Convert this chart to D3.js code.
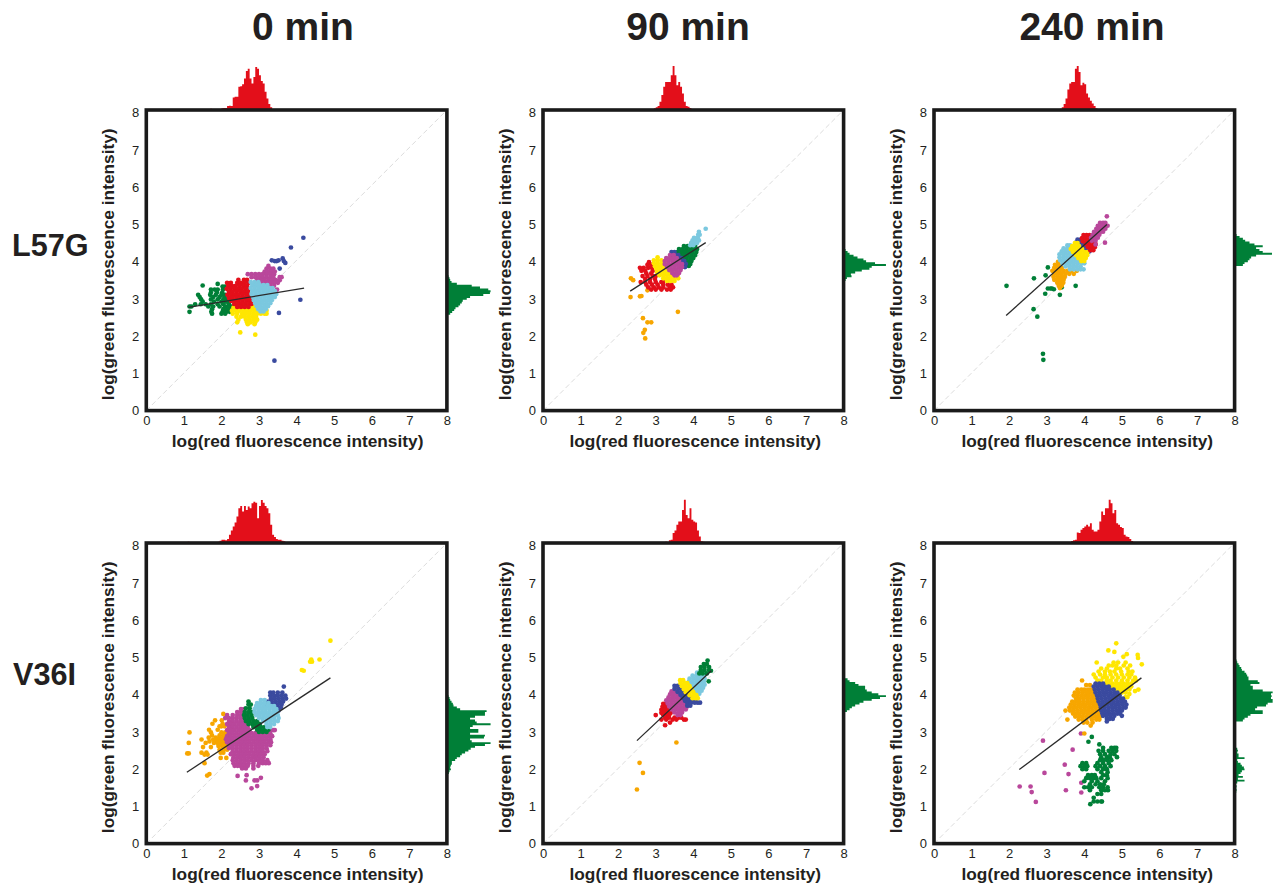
<!DOCTYPE html>
<html><head><meta charset="utf-8">
<script src="https://cdn.jsdelivr.net/npm/d3@7"></script>
<style>html,body{margin:0;padding:0;background:#fff;overflow:hidden}svg{display:block}text{font-family:"Liberation Sans",Arial,sans-serif;fill:#231f20}</style>
</head><body><svg id="c" width="1274" height="885"></svg>
<script>
const columnTitles=["0 min","90 min","240 min"];
const rowTitles=["L57G","V36I"];
const xLabel="log(red fluorescence intensity)";
const yLabel="log(green fluorescence intensity)";
const tickValues=[0,1,2,3,4,5,6,7,8];
const colors={red:"#e30f1a",green:"#007f37",magenta:"#b9479b",cyan:"#7bc8df",yellow:"#ffe600",orange:"#f7a600",blue:"#3a4a9f"};

// Scatter clusters: each row is [y, x, x, x ...].
const p1Green=[[3.37,1.9],[3.33,1.5],[3.3,2.03,2.1],[3.22,1.72,1.82,1.9,2.04],[3.14,1.72,1.88,2.02],[3.08,1.38,1.7,1.85,2.0,2.1],[3.02,1.42,1.78,1.95,2.08],[2.96,1.46,1.72,1.9,2.05,2.15],[2.9,1.5,1.8,2.0,2.12,2.18],[2.83,1.3,1.45,1.58,1.72,1.9,2.05,2.2],[2.77,1.15,1.2,1.65,1.78,1.95,2.1,2.2,2.28],[2.7,1.75,2.05,2.15,2.25,2.3],[2.63,1.15,1.73,2.03,2.13,2.22],[2.58,1.75,2.0,2.1]];
const p1Yellow=[[2.82,2.4,2.5,2.6,2.7,2.8,2.9],[2.74,2.32,2.42,2.52,2.62,2.72,2.82,2.92,3.0],[2.66,2.28,2.38,2.48,2.58,2.68,2.78,2.88,2.98,3.08,3.2],[2.58,2.3,2.42,2.55,2.65,2.75,2.85,2.95,3.05,3.15,3.2],[2.5,2.4,2.52,2.62,2.72,2.82,2.92],[2.42,2.45,2.65,2.75,2.85,2.95],[2.35,2.42,2.68,2.78,2.9],[2.3,2.7,2.88],[2.08,2.5],[2.02,2.9]];
const p1Red=[[3.48,2.45,2.6,2.68],[3.4,2.15,2.25,2.42,2.52,2.62,2.72],[3.32,2.18,2.28,2.38,2.48,2.58,2.68],[3.24,2.14,2.24,2.34,2.44,2.54,2.64,2.74],[3.16,2.2,2.3,2.4,2.5,2.6,2.7],[3.08,2.16,2.26,2.36,2.46,2.56,2.66,2.76],[3.0,2.2,2.3,2.4,2.5,2.6,2.7,2.76],[2.92,2.26,2.36,2.46,2.56,2.66,2.76],[2.84,2.34,2.44,2.54,2.64,2.74,2.8],[2.76,2.42,2.52,2.62,2.72]];
const p1Magenta=[[3.85,3.25],[3.78,3.2,3.3,3.38],[3.7,3.15,3.25,3.35,3.42],[3.63,2.7,2.8,2.9,3.0,3.1,3.2,3.3,3.4],[3.55,2.8,2.9,3.0,3.1,3.2,3.3,3.38,3.55,3.6],[3.47,2.95,3.05,3.15,3.25,3.35,3.45,3.55],[3.4,3.1,3.2,3.3,3.4,3.5],[3.32,3.3,3.4],[3.22,3.48]];
const p1Cyan=[[3.42,2.78,2.88,2.98],[3.34,2.82,2.92,3.02,3.12,3.22],[3.26,2.78,2.88,2.98,3.08,3.18,3.28,3.36],[3.18,2.82,2.92,3.02,3.12,3.22,3.32,3.42],[3.1,2.8,2.9,3.0,3.1,3.2,3.3,3.4,3.46],[3.02,2.84,2.94,3.04,3.14,3.24,3.34,3.42],[2.94,2.86,2.96,3.06,3.16,3.26,3.34],[2.86,2.9,3.0,3.1,3.2,3.3],[2.78,2.94,3.04,3.14,3.24],[2.7,2.98,3.08,3.18],[2.64,3.04,3.12]];
const p1Blue=[[4.6,4.18],[4.34,3.85],[4.05,3.63],[4.0,3.34,3.52],[3.98,3.42,3.47,3.66],[3.93,3.7],[3.78,3.55],[2.95,4.1],[2.6,3.53],[1.33,3.41]];

const p2Orange=[[3.52,2.34],[3.47,2.4],[3.2,2.78],[3.05,2.62],[3.04,2.58],[3.02,2.33],[2.63,3.59],[2.46,2.66],[2.35,2.78,2.88],[2.15,2.71],[2.07,2.67],[1.92,2.72]];
const p2Red=[[3.95,2.82],[3.88,2.78,2.88],[3.8,2.58,2.68,2.8,2.9],[3.72,2.62,2.72,2.92],[3.65,2.75,2.88],[3.58,2.65,2.78,2.92,3.0],[3.5,2.72,2.85,2.98],[3.42,2.6,2.72,2.85,3.0,3.15,3.2],[3.35,2.75,2.9,3.05,3.2,3.32,3.42],[3.28,2.8,2.95,3.08,3.2,3.38,3.46],[3.22,2.88,3.0,3.15,3.3,3.4]];
const p2Yellow=[[4.08,3.05],[4.0,2.95,3.05,3.15],[3.92,2.95,3.05,3.15,3.25],[3.84,2.98,3.08,3.18,3.28],[3.76,3.02,3.12,3.22,3.32],[3.68,3.04,3.14,3.24,3.34,3.44],[3.6,3.1,3.2,3.3,3.4,3.5,3.58],[3.52,3.2,3.3,3.4,3.5,3.6],[3.45,3.3,3.4,3.5]];
const p2Green=[[4.45,3.95,4.02],[4.38,3.75,3.85,3.95,4.05],[4.3,3.62,3.72,3.82,3.92,4.02,4.1],[4.22,3.58,3.68,3.78,3.88,3.98,4.08],[4.14,3.65,3.75,3.85,3.95,4.05],[4.06,3.72,3.82,3.92,4.0],[3.98,3.8,3.9,3.95],[3.9,3.82,3.92],[3.85,3.88]];
const p2Blue=[[4.22,3.42,3.5],[4.14,3.42,3.52,3.6],[4.06,3.5,3.6,3.68],[3.98,3.58,3.68,3.76],[3.9,3.62,3.72,3.8],[3.82,3.7,3.78]];
const p2Magenta=[[4.14,3.38,3.48],[4.06,3.28,3.38,3.48,3.56],[3.98,3.24,3.34,3.44,3.54,3.62],[3.9,3.24,3.34,3.44,3.54,3.64,3.7],[3.82,3.3,3.4,3.5,3.6,3.7],[3.74,3.36,3.46,3.56,3.66],[3.66,3.44,3.54,3.62],[3.6,3.5,3.56]];
const p2Cyan=[[4.84,4.33],[4.76,4.15],[4.68,4.13,4.17],[4.6,4.02,4.12],[4.53,3.98,4.06,4.15],[4.46,3.95,4.03,4.1],[4.4,3.92,4.0]];

const p3Green=[[3.81,3.03],[3.6,2.97],[3.52,2.66],[3.32,1.93,3.77],[3.28,3.4],[3.25,3.03,3.1,3.14],[3.23,3.19],[3.11,2.96],[3.08,3.35],[2.7,2.65],[2.5,2.75],[1.51,2.9],[1.35,2.91]];
const p3Orange=[[3.96,3.3],[3.88,3.22,3.32],[3.8,3.2,3.3,3.4],[3.72,3.15,3.25,3.35,3.45,3.55,3.65,3.8],[3.64,3.2,3.3,3.4,3.5,3.6,3.72],[3.56,3.18,3.28,3.38,3.48],[3.48,3.2,3.3,3.38,3.45],[3.4,3.28,3.36,3.44],[3.32,3.32,3.4],[3.26,3.35]];
const p3Cyan=[[4.4,3.55,3.62],[4.32,3.45,3.55,3.65,3.7],[4.24,3.4,3.5,3.6,3.7],[4.16,3.34,3.44,3.54,3.64,3.74],[4.08,3.34,3.44,3.54,3.64,3.74,3.84],[4.0,3.36,3.46,3.56,3.66,3.76,3.86,3.94],[3.92,3.42,3.52,3.62,3.72,3.82,3.92,4.0],[3.84,3.5,3.6,3.7,3.8,3.9],[3.76,3.62,3.72,3.82,3.9,3.98]];
const p3Blue=[[4.55,3.82,3.9],[4.47,3.78,3.88,3.96],[4.4,3.85,3.95,4.02],[4.32,3.98,4.06],[4.24,4.02,4.1,4.14]];
const p3Yellow=[[4.46,3.75,3.82],[4.38,3.68,3.78,3.86],[4.3,3.64,3.74,3.84,3.94],[4.22,3.7,3.8,3.9,4.0,4.08],[4.14,3.78,3.88,3.98,4.08],[4.06,3.84,3.94,4.04],[3.98,3.92,4.0]];
const p3Red=[[4.67,3.98,4.06,4.14],[4.59,3.94,4.04,4.14,4.22],[4.51,3.96,4.06,4.16,4.26],[4.43,4.04,4.14,4.24,4.3],[4.35,4.1,4.2,4.28],[4.27,4.16,4.24]];
const p3Magenta=[[5.17,4.6],[5.0,4.42,4.5,4.56],[4.92,4.36,4.46,4.54,4.62],[4.84,4.32,4.4,4.5,4.56],[4.76,4.26,4.36,4.44,4.5],[4.68,4.22,4.32,4.4],[4.6,4.18,4.28,4.36],[4.52,4.2,4.3],[4.47,4.55],[4.42,4.3]];

const p4Yellow=[[5.4,4.9],[4.9,4.39,4.61],[4.84,4.41,4.36],[4.62,4.14],[4.6,4.19]];
const p4Orange=[[3.45,2.05],[3.28,2.01,1.83],[3.19,1.76,2.03],[3.12,1.95,2.0,2.08],[3.03,1.67,1.9],[2.96,1.15,1.72,2.0,2.1],[2.88,1.75,1.95,2.05,2.12],[2.82,1.66,1.85,1.95,2.05,2.12],[2.77,1.47,1.78,1.9,2.0,2.1],[2.72,1.68,1.85,1.95,2.05,2.13],[2.68,1.13,1.58,1.8,1.9,2.0,2.1],[2.6,1.92,2.02,2.12],[2.57,1.51,1.72],[2.5,1.95,2.05,2.15],[2.42,1.47,1.6,1.98,2.05],[2.4,1.09,1.13],[2.37,1.55,1.63],[2.28,1.98,2.13],[2.14,1.55],[1.85,1.68],[1.81,1.62]];
const p4Magenta=[[3.58,2.52,2.6],[3.5,2.42,2.52,2.6],[3.42,2.15,2.3,2.42,2.52,2.62],[3.34,2.1,2.2,2.3,2.4,2.5,2.6],[3.26,2.2,2.3,2.4,2.5,2.6],[3.18,2.15,2.25,2.35,2.45,2.55,2.65],[3.1,2.2,2.3,2.4,2.5,2.6,2.7],[3.02,2.15,2.25,2.35,2.45,2.55,2.65,2.75,3.2,3.3,3.38,3.42],[2.94,2.2,2.3,2.4,2.5,2.6,2.7,2.8,2.9,3.0,3.1,3.2,3.3],[2.86,2.15,2.25,2.35,2.45,2.55,2.65,2.75,2.85,2.95,3.05,3.15,3.25,3.35],[2.78,2.12,2.2,2.3,2.4,2.5,2.6,2.7,2.8,2.9,3.0,3.1,3.2,3.3],[2.7,2.15,2.25,2.35,2.45,2.55,2.65,2.75,2.85,2.95,3.05,3.15,3.25,3.32],[2.62,2.2,2.3,2.4,2.5,2.6,2.7,2.8,2.9,3.0,3.1,3.2,3.3],[2.54,2.2,2.3,2.4,2.5,2.6,2.7,2.8,2.9,3.0,3.1,3.2],[2.46,2.3,2.4,2.5,2.6,2.7,2.8,2.9,3.0,3.1,3.22],[2.38,2.25,2.35,2.45,2.55,2.65,2.75,2.85,2.95,3.05,3.15],[2.3,2.32,2.42,2.52,2.62,2.72,2.82,2.92,3.02,3.12],[2.22,2.3,2.4,2.5,2.6,2.7,2.8,2.9,3.0,3.1,3.22],[2.14,2.32,2.42,2.52,2.62,2.72,2.85,3.0,3.1,3.18,3.26],[2.07,2.35,2.43,2.5,2.6,2.7,2.85,2.98],[2.0,2.55,2.65,2.85],[1.82,2.67],[1.8,2.43],[1.75,3.05],[1.68,2.95,2.65,2.88],[1.53,2.95],[1.47,2.8]];
const p4Green=[[3.78,2.72],[3.7,2.72,2.78],[3.6,2.65,2.75],[3.5,2.62,2.72,2.8],[3.42,2.6,2.7,2.8],[3.34,2.62,2.72,2.82],[3.26,2.65,2.75,2.85,2.95],[3.18,2.72,2.82,2.92,3.02],[3.1,2.85,2.95,3.05,3.15],[3.03,2.95,3.05,3.15,3.25],[2.97,3.0,3.1,3.2]];
const p4Cyan=[[3.82,3.05,3.15],[3.74,2.95,3.05,3.15,3.25],[3.66,2.92,3.02,3.12,3.22,3.32,3.4],[3.58,2.88,2.98,3.08,3.18,3.28,3.38,3.46],[3.5,2.88,2.98,3.08,3.18,3.28,3.38,3.48],[3.42,2.92,3.02,3.12,3.22,3.32,3.42,3.5],[3.34,3.0,3.1,3.2,3.3,3.4,3.52],[3.26,3.1,3.2,3.3,3.4,3.5],[3.18,3.2,3.3,3.4],[3.1,3.22,3.3]];
const p4Blue=[[4.18,3.66],[4.02,3.3,3.38,3.5,3.62],[3.94,3.3,3.4,3.5,3.6,3.7],[3.86,3.32,3.42,3.52,3.62,3.72],[3.78,3.24,3.34,3.44,3.54,3.64],[3.7,3.2,3.3,3.4,3.5,3.6],[3.62,3.4,3.5,3.58],[3.54,3.45,3.52]];

const p5Orange=[[2.69,3.55],[2.15,2.57],[1.88,2.66],[1.44,2.5]];
const p5Red=[[3.72,3.2,3.28],[3.64,3.18,3.26,3.34],[3.56,3.15,3.23,3.32],[3.48,3.15,3.22,3.3,3.4],[3.42,3.0,3.2,3.28,3.36],[3.35,3.25,3.35,3.5,3.6,3.68],[3.3,3.15,3.28,3.45,3.55,3.75,3.8],[3.22,3.38],[3.15,3.25]];
const p5Magenta=[[4.05,3.42,3.5],[3.97,3.38,3.48,3.58,3.66],[3.89,3.34,3.44,3.54,3.64,3.72],[3.81,3.28,3.38,3.48,3.58,3.68,3.76],[3.73,3.32,3.42,3.52,3.62,3.72,3.8],[3.65,3.36,3.46,3.56,3.66,3.76,3.84],[3.57,3.42,3.52,3.62,3.72,3.8],[3.49,3.5,3.6,3.7],[3.42,3.58,3.66]];
const p5Blue=[[4.2,3.5,3.58],[4.12,3.5,3.6,3.68],[4.04,3.58,3.68,3.76],[3.96,3.66,3.76,3.84],[3.88,3.72,3.82,3.9,3.98],[3.8,3.78,3.88,3.98,4.06],[3.75,3.84,3.94,4.04,4.12,4.18],[3.67,3.84,3.92]];
const p5Cyan=[[4.55,4.1,4.18,4.25],[4.47,3.98,4.08,4.18,4.28],[4.39,3.9,4.0,4.1,4.2,4.3],[4.31,3.88,3.98,4.08,4.18,4.28],[4.23,3.94,4.04,4.14,4.24,4.3],[4.15,4.0,4.1,4.2,4.26],[4.07,4.04,4.14,4.22],[3.99,4.1,4.16]];
const p5Yellow=[[4.35,3.65,3.73],[4.27,3.66,3.76,3.84],[4.19,3.7,3.8,3.9],[4.11,3.75,3.85,3.95],[4.03,3.8,3.9,4.0],[3.95,3.9,4.0,4.08],[3.87,3.98,4.06,4.12]];
const p5Green=[[4.87,4.38],[4.78,4.28,4.36],[4.7,4.2,4.3,4.42],[4.62,4.2,4.3,4.42],[4.6,4.47],[4.53,4.16,4.25,4.36],[4.32,4.41]];

const p6Magenta=[[2.93,3.91],[2.74,2.9],[2.5,3.69],[2.1,3.48],[1.88,2.94],[1.85,3.58],[1.62,3.92],[1.52,2.28,2.57],[1.42,3.51],[1.37,2.6],[1.36,3.92],[1.11,2.71]];
const p6Green=[[2.84,4.2],[2.71,4.11],[2.64,4.4],[2.55,4.5,4.72,4.8,4.85],[2.47,4.38,4.5,4.65,4.75,4.85],[2.38,4.42,4.55,4.7,4.8],[2.3,4.45,4.6,4.68,4.87],[2.22,4.42,4.52,4.62,4.72],[2.14,3.95,4.05,4.35,4.5,4.65],[2.06,3.9,4.0,4.08,4.3,4.42,4.55,4.7],[1.98,3.95,4.05,4.35,4.5,4.6],[1.9,4.45,4.62],[1.82,4.1,4.2,4.28,4.5,4.6],[1.74,4.05,4.15,4.25,4.32,4.45,4.62],[1.66,4.0,4.2,4.35,4.55],[1.58,4.15,4.3,4.42,4.52],[1.5,4.0,4.1,4.2,4.4,4.5,4.62],[1.42,4.15,4.45,4.55,4.63],[1.32,4.35,4.45],[1.22,4.25],[1.12,4.25,4.35,4.45,4.47],[1.05,4.16]];
const p6Yellow=[[5.33,4.85],[5.14,4.64],[5.1,4.8],[5.04,5.13],[5.02,5.42],[4.97,5.04],[4.94,5.43],[4.82,4.33,4.78,4.9,5.1],[4.77,5.53],[4.74,4.65,4.75,4.85,5.05,5.22],[4.66,4.45,4.6,4.85,4.95,5.15],[4.58,4.38,4.55,4.68,4.8,4.98,5.18,5.28],[4.5,4.25,4.42,4.55,4.7,4.85,5.0,5.15,5.25],[4.42,4.3,4.5,4.6,4.75,4.9,5.05,5.2,5.35],[4.34,4.35,4.45,4.6,4.7,4.85,5.0,5.15,5.3,5.38],[4.26,4.45,4.55,4.65,4.75,4.85,4.95,5.05,5.15,5.25],[4.18,4.6,4.7,4.8,4.9,5.0,5.1,5.18,5.25],[4.1,4.85,4.95,5.05,5.12,5.2,5.44],[4.06,5.35],[4.02,5.0,5.1],[3.98,5.2],[3.9,5.1,5.15]];
const p6Orange=[[4.34,3.94],[4.22,4.05,4.15],[4.1,3.82,3.92,4.0,4.1,4.18],[4.02,3.75,3.85,3.95,4.05,4.15,4.25],[3.94,3.72,3.82,3.92,4.02,4.12,4.22,4.3],[3.86,3.78,3.88,3.98,4.08,4.18,4.28,4.34],[3.78,3.68,3.78,3.88,3.98,4.08,4.18,4.28,4.36],[3.7,3.64,3.74,3.84,3.94,4.04,4.14,4.24,4.34,4.4],[3.62,3.6,3.7,3.8,3.9,4.0,4.1,4.2,4.3,4.4],[3.54,3.5,3.62,3.72,3.82,3.92,4.02,4.12,4.22,4.32,4.42],[3.46,3.7,3.78,3.88,3.98,4.08,4.18,4.28,4.38],[3.38,3.76,3.86,3.96,4.06,4.16,4.26,4.36,4.42],[3.3,3.55,3.85,3.95,4.05,4.2,4.32,4.4],[3.22,3.98,4.08,4.22],[3.14,4.17],[2.93,4.0]];
const p6Blue=[[4.26,4.3,4.4,4.5],[4.18,4.25,4.35,4.45,4.55,4.65],[4.1,4.28,4.38,4.48,4.58,4.68,4.78],[4.02,4.3,4.4,4.5,4.6,4.7,4.8,4.88],[3.94,4.34,4.44,4.54,4.64,4.74,4.84,4.94],[3.86,4.36,4.46,4.56,4.66,4.76,4.86,4.96,5.03],[3.78,4.38,4.48,4.58,4.68,4.78,4.88,4.98,5.08],[3.7,4.42,4.52,4.62,4.72,4.82,4.92,5.02,5.12],[3.62,4.44,4.54,4.64,4.74,4.84,4.94,5.04,5.1],[3.54,4.45,4.55,4.65,4.75,4.85,4.95,5.0],[3.46,4.48,4.58,4.68,4.78,4.88,4.95],[3.4,4.5,4.6,4.7,4.8,5.0],[3.32,4.6,4.68,4.76],[3.25,4.6]];

// Fitted lines: [x1, y1, x2, y2]
const fit1=[1.12,2.75,4.2,3.26];
const fit2=[2.32,3.18,4.33,4.47];
const fit3=[1.92,2.53,4.6,4.95];
const fit4=[1.08,1.9,4.9,4.41];
const fit5=[2.5,2.74,4.48,4.6];
const fit6=[2.27,1.97,5.52,4.41];

// Marginal histograms: first bin left edge and per-bin counts
const binWidth=0.05;
const red1Start=1.7, red1=[4,2,0,0,3,3,5,6,6,12,13,12,38,40,40,70,72,78,95,118,125,95,80,100,130,125,105,88,80,55,35,18,8,2];
const green1Start=2.55, green1=[5,10,16,22,26,35,40,45,48,60,70,110,130,132,125,100,75,30,14,10,8,5,3,2];
const red2Start=2.9, red2=[3,5,8,12,25,45,70,85,85,85,105,133,105,75,85,70,50,25,12,10,6,2];
const green2Start=3.45, green2=[4,6,10,24,22,35,55,78,85,128,95,68,60,42,30,18,12,6,3];
const red3Start=3.3, red3=[3,4,8,18,35,62,80,85,85,125,133,115,75,82,78,50,38,28,20,12,5];
const green3Start=3.85, green3=[5,25,30,40,45,50,65,113,85,75,65,85,60,45,32,25,15,6];
const red4Start=1.1, red4=[4,0,0,0,0,0,0,0,0,0,3,3,3,3,0,0,4,7,10,10,8,12,25,38,50,62,80,105,112,95,112,100,110,105,120,125,122,75,112,130,122,112,105,90,55,25,18,12,10,10,7,5,3];
const green4Start=1.6, green4=[2,2,2,2,3,3,6,8,12,10,12,15,15,25,30,40,45,55,65,72,85,115,132,75,70,112,115,70,95,95,70,78,132,90,85,70,85,115,115,120,40,30,20,18,14,10,8,5,3,2];
const red5Start=3.2, red5=[2,4,2,8,10,30,38,55,65,65,100,131,85,75,105,70,65,62,38,20,5,4];
const green5Start=3.5, green5=[5,10,18,25,35,48,60,85,110,128,105,85,70,65,65,45,35,18,12,4];
const red6Start=2.55, red6=[2,0,0,0,0,0,0,0,0,0,0,0,0,0,0,0,0,0,0,3,2,2,6,8,10,32,30,40,45,50,55,50,60,40,35,35,40,65,95,85,105,105,131,120,90,100,60,55,48,45,25,20,18,12,6,2,2,2,2];
const green6Start=1.1, green6=[8,0,0,0,0,3,5,6,5,6,4,8,30,10,25,12,18,22,30,28,22,18,10,8,30,12,12,8,10,8,0,0,0,0,0,0,0,0,0,0,0,0,0,0,25,30,40,48,85,85,62,68,95,100,115,115,110,112,110,115,85,55,55,48,75,70,42,42,38,35,30,22,20,15,12,8,6,4,2,2,2];

const panels=[
 {left:146.3,top:110,col:0,row:0,fit:fit1,redStart:red1Start,red:red1,greenStart:green1Start,green:green1,layers:[[p1Green,"green"],[p1Yellow,"yellow"],[p1Red,"red"],[p1Magenta,"magenta"],[p1Cyan,"cyan"],[p1Blue,"blue"]]},
 {left:543,top:110,col:1,row:0,fit:fit2,redStart:red2Start,red:red2,greenStart:green2Start,green:green2,layers:[[p2Orange,"orange"],[p2Red,"red"],[p2Yellow,"yellow"],[p2Green,"green"],[p2Blue,"blue"],[p2Magenta,"magenta"],[p2Cyan,"cyan"]]},
 {left:934,top:110,col:2,row:0,fit:fit3,redStart:red3Start,red:red3,greenStart:green3Start,green:green3,layers:[[p3Green,"green"],[p3Orange,"orange"],[p3Cyan,"cyan"],[p3Blue,"blue"],[p3Yellow,"yellow"],[p3Red,"red"],[p3Magenta,"magenta"]]},
 {left:146.3,top:543,col:0,row:1,fit:fit4,redStart:red4Start,red:red4,greenStart:green4Start,green:green4,layers:[[p4Yellow,"yellow"],[p4Orange,"orange"],[p4Magenta,"magenta"],[p4Green,"green"],[p4Blue,"blue"],[p4Cyan,"cyan"]]},
 {left:543,top:543,col:1,row:1,fit:fit5,redStart:red5Start,red:red5,greenStart:green5Start,green:green5,layers:[[p5Orange,"orange"],[p5Red,"red"],[p5Magenta,"magenta"],[p5Blue,"blue"],[p5Cyan,"cyan"],[p5Yellow,"yellow"],[p5Green,"green"]]},
 {left:934,top:543,col:2,row:1,fit:fit6,redStart:red6Start,red:red6,greenStart:green6Start,green:green6,layers:[[p6Magenta,"magenta"],[p6Green,"green"],[p6Yellow,"yellow"],[p6Orange,"orange"],[p6Blue,"blue"]]}
];

const size=300.6, dotR=2.35;
const svg=d3.select("#c");
const histH=d3.scaleLinear().domain([0,133]).range([0,44]);
const fontStack='"Liberation Sans",Arial,sans-serif';

panels.forEach(p=>{
  const g=svg.append("g").attr("transform",`translate(${p.left},${p.top})`);
  const x=d3.scaleLinear().domain([0,8]).range([0,size]);
  const y=d3.scaleLinear().domain([0,8]).range([size,0]);
  const yTick=d3.scaleLinear().domain([0,8]).range([size,2.6]);

  const redArea=d3.area().curve(d3.curveStepAfter)
    .x((d,i)=>x(p.redStart+i*binWidth)).y0(0).y1(d=>-histH(d));
  g.append("path").attr("d",redArea([...p.red,0])).attr("fill",colors.red);
  const greenArea=d3.area().curve(d3.curveStepAfter)
    .y((d,i)=>y(p.greenStart+i*binWidth)).x0(size).x1(d=>size+histH(d));
  g.append("path").attr("d",greenArea([...p.green,0])).attr("fill",colors.green);

  g.append("line").attr("x1",x(0)).attr("y1",y(0)).attr("x2",x(8)).attr("y2",y(8))
    .attr("stroke","#dcdcdc").attr("stroke-width",1).attr("stroke-dasharray","5 3");

  p.layers.forEach(([rows,c])=>{
    const pts=rows.flatMap(([v,...xs])=>xs.map(u=>[u,v]));
    g.append("g").selectAll("circle").data(pts).join("circle")
      .attr("cx",d=>x(d[0])).attr("cy",d=>y(d[1])).attr("r",dotR).attr("fill",colors[c]);
  });

  g.append("line").attr("x1",x(p.fit[0])).attr("y1",y(p.fit[1])).attr("x2",x(p.fit[2])).attr("y2",y(p.fit[3]))
    .attr("stroke","#2a2a2a").attr("stroke-width",1.3);

  const ax=g.append("g").attr("transform",`translate(0,${size})`)
    .call(d3.axisBottom(x).tickValues(tickValues).tickSize(0).tickPadding(5).tickFormat(d3.format("d")));
  const ay=g.append("g").call(d3.axisLeft(yTick).tickValues(tickValues).tickSize(0).tickPadding(7).tickFormat(d3.format("d")));
  [ax,ay].forEach(a=>{a.select(".domain").remove();a.selectAll("text").attr("font-size",13).style("font-family",fontStack).attr("fill","#231f20");});
  ax.selectAll("text").filter(d=>d===6).attr("fill","#777");

  g.append("rect").attr("width",size).attr("height",size).attr("fill","none").attr("stroke","#1a1a1a").attr("stroke-width",3.6);

  g.append("text").attr("x",size/2+[1,2,3][p.col]).attr("y",size+36).attr("text-anchor","middle")
    .attr("font-weight","bold").attr("font-size",17.3).text(xLabel);
  g.append("text").attr("transform",`translate(-32,${size/2+4}) rotate(-90)`)
    .attr("text-anchor","middle").attr("font-weight","bold").attr("font-size",17.3).text(yLabel);
});

const colCenters=[303,688,1092];
svg.selectAll("text.ct").data(columnTitles).join("text").attr("class","ct")
  .attr("x",(d,i)=>colCenters[i]).attr("y",40).attr("text-anchor","middle")
  .attr("font-weight","bold").attr("font-size",39).text(d=>d);
const rowY=[256,685], rowX=[12,13];
svg.selectAll("text.rt").data(rowTitles).join("text").attr("class","rt")
  .attr("x",(d,i)=>rowX[i]).attr("y",(d,i)=>rowY[i])
  .attr("font-weight","bold").attr("font-size",30.6).text(d=>d);
</script></body></html>
